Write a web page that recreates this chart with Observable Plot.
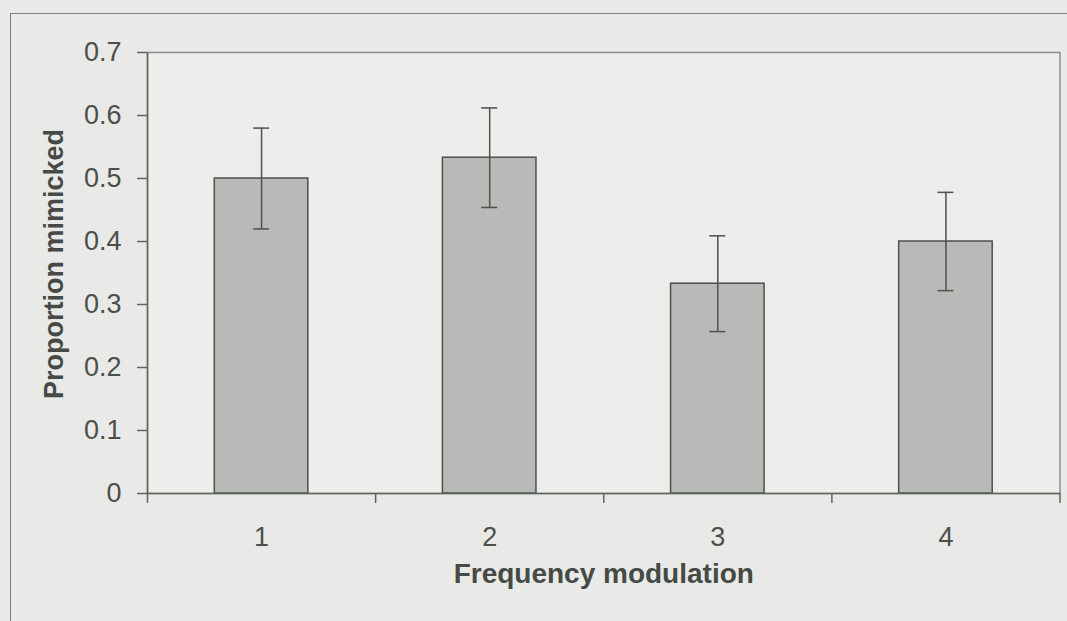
<!DOCTYPE html>
<html>
<head>
<meta charset="utf-8">
<script src="https://cdn.jsdelivr.net/npm/d3@7"></script>
<script src="https://cdn.jsdelivr.net/npm/@observablehq/plot@0.6"></script>
<style>
  html, body { margin: 0; padding: 0; }
  body {
    width: 1067px; height: 621px; overflow: hidden; position: relative;
    background: #e9eae7;
    font-family: "Liberation Sans", Arial, sans-serif;
  }
  #border {
    position: absolute; left: 10px; top: 13px; right: -20px; bottom: -20px;
    border-left: 1.5px solid #7c807c; border-top: 1.5px solid #7c807c;
  }
  #chart { position: absolute; left: 0; top: 0; }
</style>
</head>
<body>
<div id="border"></div>
<div id="chart"></div>
<script>
// Proportion of calls mimicked at each frequency-modulation level, with error bars
const categories = [1, 2, 3, 4];
const proportions = [0.5, 0.533, 0.333, 0.4];
const errors = [0.08, 0.079, 0.076, 0.078];
const yTicks = [0, 0.1, 0.2, 0.3, 0.4, 0.5, 0.6, 0.7];
const categoryEdges = [0.5, 1.5, 2.5, 3.5, 4.5];

const rows = categories.map((c, i) => ({cat: c, p: proportions[i], e: errors[i]}));

const ink = "#4a524a";
const barHalf = 0.205;   // half bar width, in category units
const capHalf = 0.035;   // half error-bar cap width

const chart = Plot.plot({
  width: 1067,
  height: 621,
  marginLeft: 147,
  marginRight: 7.5,
  marginTop: 52,
  marginBottom: 128,
  style: {background: "transparent", fontFamily: "'Liberation Sans', Arial, sans-serif", fontSize: "27px", color: "#4b504b"},
  x: {type: "linear", domain: [0.5, 4.5]},
  y: {domain: [0, 0.7]},
  marks: [
    Plot.frame({fill: "#edeeeb", stroke: "#8b8e8b", strokeWidth: 1.5}),
    Plot.rect(rows, {
      x1: d => d.cat - barHalf, x2: d => d.cat + barHalf,
      y1: 0, y2: "p",
      fill: "#b9bab7", stroke: ink, strokeWidth: 1.5
    }),
    Plot.ruleX(rows, {x: "cat", y1: d => d.p - d.e, y2: d => d.p + d.e, stroke: ink, strokeWidth: 1.5}),
    Plot.ruleY(rows, {y: d => d.p + d.e, x1: d => d.cat - capHalf, x2: d => d.cat + capHalf, stroke: ink, strokeWidth: 1.5}),
    Plot.ruleY(rows, {y: d => d.p - d.e, x1: d => d.cat - capHalf, x2: d => d.cat + capHalf, stroke: ink, strokeWidth: 1.5}),
    Plot.ruleX([0.5], {stroke: "#5d675d", strokeWidth: 1.5}),
    Plot.ruleY([0], {stroke: "#5d675d", strokeWidth: 1.5}),
    Plot.axisY(yTicks, {
      tickSize: 10, tickPadding: 16, fontSize: 27, label: null,
      stroke: "#5d675d", strokeWidth: 1.5,
      tickFormat: d => d === 0 ? "0" : d.toFixed(1)
    }),
    Plot.axisX(categoryEdges, {tickSize: 10, tickFormat: () => "", label: null, stroke: "#5d675d", strokeWidth: 1.5}),
    Plot.axisX(categories, {tickSize: 0, tickPadding: 33, fontSize: 27, label: null, tickFormat: d => String(d)}),
    Plot.text(["Frequency modulation"], {
      frameAnchor: "bottom", dy: 89.5, fontWeight: "bold", fontSize: 28,
      fill: "#454a45", text: d => d
    }),
    Plot.text(["Proportion mimicked"], {
      frameAnchor: "left", textAnchor: "middle", rotate: -90, dx: -93, dy: -9,
      fontWeight: "bold", fontSize: 27, fill: "#454a45", text: d => d
    })
  ]
});

document.getElementById("chart").appendChild(chart);
</script>
</body>
</html>
